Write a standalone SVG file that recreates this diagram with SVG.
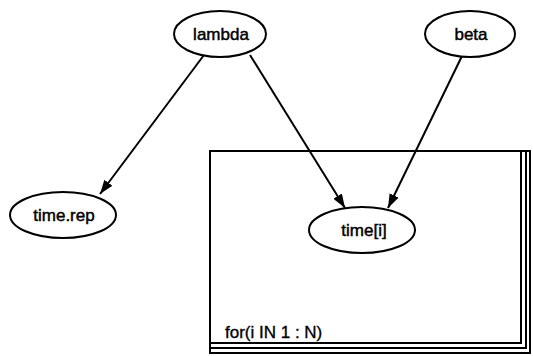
<svg xmlns="http://www.w3.org/2000/svg" width="533" height="356" viewBox="0 0 533 356">
  <style>
    .node ellipse { fill: #ffffff; stroke: #000000; stroke-width: 2; }
    .node text { font-family: "Liberation Sans", Arial, sans-serif; font-size: 17px; fill: #000000; stroke: #000000; stroke-width: 0.45; text-anchor: middle; }
    .edge { stroke: #000000; stroke-width: 2; fill: none; marker-end: url(#arrow); }
    .plate rect { fill: none; stroke: #000000; stroke-width: 2; }
    .plate text { font-family: "Liberation Sans", Arial, sans-serif; font-size: 17px; fill: #000000; stroke: #000000; stroke-width: 0.35; }
  </style>
  <defs>
    <marker id="arrow" viewBox="0 0 14 10" refX="14" refY="5" markerWidth="14" markerHeight="10" markerUnits="userSpaceOnUse" orient="auto">
      <path d="M0,0 L14,5 L0,10 z" fill="#000000"/>
    </marker>
  </defs>

  <!-- plate: three stacked frames sharing the top-left corner -->
  <g id="plate" class="plate">
    <rect x="210" y="151" width="320" height="202"/>
    <rect x="210" y="151" width="316" height="197"/>
    <rect x="210" y="151" width="311" height="192"/>
    <text x="225" y="338">for(i IN 1 : N)</text>
  </g>

  <g id="connectors">
    <line class="edge" x1="204" y1="55" x2="100" y2="194"/>
    <line class="edge" x1="250" y1="55" x2="345" y2="208"/>
    <line class="edge" x1="462" y1="56" x2="388" y2="208"/>
  </g>

  <g id="lambda" class="node">
    <ellipse cx="220" cy="34" rx="46" ry="23"/>
    <text x="221" y="40">lambda</text>
  </g>
  <g id="beta" class="node">
    <ellipse cx="470" cy="34" rx="45" ry="23"/>
    <text x="471" y="40">beta</text>
  </g>
  <g id="time.rep" class="node">
    <ellipse cx="63" cy="215" rx="53" ry="23"/>
    <text x="64" y="221">time.rep</text>
  </g>
  <g id="time_i" class="node">
    <ellipse cx="362" cy="230" rx="53" ry="23"/>
    <text x="364" y="236">time[i]</text>
  </g>
</svg>
